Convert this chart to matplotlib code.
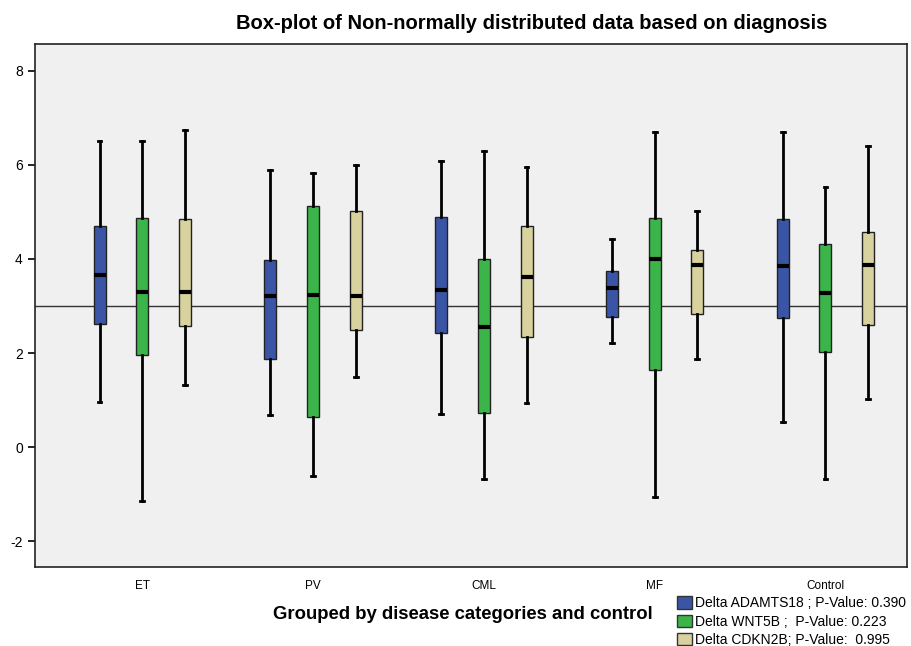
import matplotlib
matplotlib.use("Agg")
import matplotlib.pyplot as plt
from matplotlib.patches import Patch
import numpy as np

plt.rcParams["font.family"] = ["Liberation Sans", "DejaVu Sans"]

categories = ["ET", "PV", "CML", "MF", "Control"]
series_names = [
    "Delta ADAMTS18 ; P-Value: 0.390",
    "Delta WNT5B ;  P-Value: 0.223",
    "Delta CDKN2B; P-Value:  0.995",
]
colors = ["#3b55a6", "#3bb54a", "#d8d29e"]

# per series: whisker low, Q1, median, Q3, whisker high  (one row per category)
adamts18 = [
    [0.97, 2.62, 3.65, 4.70, 6.50],
    [0.68, 1.88, 3.22, 3.97, 5.90],
    [0.70, 2.43, 3.35, 4.90, 6.08],
    [2.22, 2.77, 3.39, 3.75, 4.42],
    [0.53, 2.75, 3.85, 4.84, 6.70],
]
wnt5b = [
    [-1.15, 1.95, 3.30, 4.87, 6.50],
    [-0.62, 0.65, 3.24, 5.13, 5.82],
    [-0.67, 0.72, 2.56, 4.00, 6.30],
    [-1.06, 1.64, 4.00, 4.88, 6.70],
    [-0.67, 2.03, 3.27, 4.32, 5.53],
]
cdkn2b = [
    [1.32, 2.57, 3.30, 4.85, 6.75],
    [1.50, 2.50, 3.22, 5.02, 6.00],
    [0.93, 2.34, 3.62, 4.70, 5.95],
    [1.88, 2.84, 3.87, 4.20, 5.02],
    [1.03, 2.59, 3.87, 4.57, 6.40],
]
all_series = [adamts18, wnt5b, cdkn2b]
ref_value = 3
yticks = [-2, 0, 2, 4, 6, 8]

fig = plt.figure(figsize=(9.12, 6.46), dpi=100)
ax = fig.add_axes([0.038, 0.122, 0.957, 0.81])
ax.set_facecolor("#f0f0f0")

x = np.arange(len(categories))
offsets = [-0.25, 0.0, 0.25]
for series, col, off in zip(all_series, colors, offsets):
    stats = []
    for row in series:
        lo, q1, med, q3, hi = row
        stats.append({"whislo": lo, "q1": q1, "med": med, "q3": q3, "whishi": hi, "fliers": []})
    ax.bxp(
        stats,
        positions=x + off,
        widths=0.07,
        patch_artist=True,
        showfliers=False,
        boxprops=dict(facecolor=col, edgecolor="#222222", linewidth=1.0),
        medianprops=dict(color="black", linewidth=3),
        whiskerprops=dict(color="black", linewidth=2),
        capprops=dict(color="black", linewidth=2),
        capwidths=0.022,
        manage_ticks=False,
        zorder=3,
    )

ax.axhline(ref_value, color="#333333", linewidth=1.0, zorder=2)

ax.set_xlim(-0.63, 4.48)
ax.set_ylim(-2.55, 8.57)
ax.set_yticks(yticks)
ax.set_yticklabels([str(t) for t in yticks], fontsize=10)
ax.set_xticks(x)
ax.set_xticklabels(categories, fontsize=8.5)
ax.tick_params(axis="x", length=0, pad=9)
ax.tick_params(axis="y", length=5, width=1.2, direction="out")
for sp in ax.spines.values():
    sp.set_linewidth(1.2)
    sp.set_color("#222222")

fig.text(0.583, 0.964, "Box-plot of Non-normally distributed data based on diagnosis",
         ha="center", va="center", fontsize=14.5, fontweight="bold")
fig.text(0.508, 0.048, "Grouped by disease categories and control",
         ha="center", va="center", fontsize=13.3, fontweight="bold")

handles = [Patch(facecolor=c, edgecolor="#333333") for c in colors]
fig.legend(handles, series_names, loc="lower left", bbox_to_anchor=(0.733, -0.014),
           frameon=False, fontsize=10, handlelength=1.1, handleheight=1.0,
           handletextpad=0.2, labelspacing=0.3, borderaxespad=0.2)

fig.savefig("out.png", dpi=100)
